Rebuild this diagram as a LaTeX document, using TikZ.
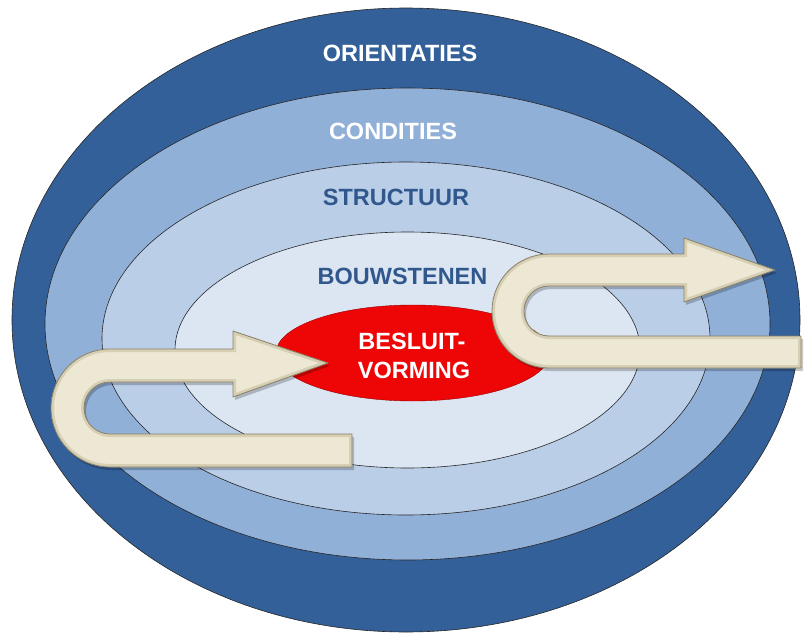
\documentclass[tikz,border=0pt]{standalone}
\usepackage{fontspec}
\setmainfont{Liberation Sans}
\usetikzlibrary{shapes.geometric}
\definecolor{bandA}{RGB}{51,96,152}
\definecolor{bandB}{RGB}{145,176,216}
\definecolor{bandC}{RGB}{187,206,232}
\definecolor{bandD}{RGB}{220,230,243}
\definecolor{coreRed}{RGB}{238,6,6}
\definecolor{lblBlue}{RGB}{48,88,140}
\definecolor{creamFill}{RGB}{237,232,212}
\definecolor{creamBevel}{RGB}{214,207,180}
\definecolor{creamEdge}{RGB}{135,127,104}
\newcommand\arrowLpath{(352,434) -- (110,434) arc[start angle=90,end angle=270,radius=26]
  -- (233,382) -- (233,397) -- (328,363) -- (233,331) -- (233,349) -- (110,349)
  arc[start angle=270,end angle=90,radius=59] -- (352,467) -- cycle}
\newcommand\arrowRpath{(801,336) -- (549,336) arc[start angle=90,end angle=270,radius=25]
  -- (684,286) -- (684,302) -- (775,270) -- (684,238) -- (684,254) -- (549,254)
  arc[start angle=270,end angle=90,radius=57] -- (801,368) -- cycle}
\begin{document}
\begin{tikzpicture}[x=1pt,y=-1pt,
  ring/.style={ellipse, draw=black!85, line width=0.6pt, inner sep=0pt},
  lbl/.style={font=\bfseries\fontsize{23.5}{28}\selectfont, inner sep=0pt},
  shadowfill/.style={fill=black, opacity=0.22},
  arrowbody/.style={fill=creamFill},
  arrowbevel/.style={draw=creamBevel, line width=6pt},
  arrowedge/.style={draw=creamEdge, line width=0.8pt, line join=round}]
\useasboundingbox (0,0) rectangle (804,637);
% concentric ellipses
\node[ring, fill=bandA, minimum width=788pt, minimum height=624pt] (orient) at (406,320) {};
\node[ring, fill=bandB, minimum width=725pt, minimum height=472pt] (cond) at (407.5,324) {};
\node[ring, fill=bandC, minimum width=608pt, minimum height=353pt] (struct) at (406,338.5) {};
\node[ring, fill=bandD, minimum width=465pt, minimum height=236pt] (bouw) at (407.5,350) {};
\node[ellipse, fill=coreRed, draw=red!60!black, line width=0.4pt, inner sep=0pt,
      minimum width=274pt, minimum height=96pt] (core) at (413,353) {};
% labels
\node[lbl, text=white] (tOrient) at (400,53.5) {ORIENTATIES};
\node[lbl, text=white] (tCond) at (393,131.5) {CONDITIES};
\node[lbl, text=lblBlue] (tStruct) at (396,197.5) {STRUCTUUR};
\node[lbl, text=lblBlue] (tBouw) at (402.5,276) {BOUWSTENEN};
\node[lbl, text=white] (tBes) at (412,341.5) {BESLUIT-};
\node[lbl, text=white] (tVorm) at (414,370) {VORMING};
% left U-arrow
\fill[shadowfill, shift={(2,3)}] \arrowLpath;
\fill[arrowbody] \arrowLpath;
\begin{scope}
  \clip \arrowLpath;
  \draw[arrowbevel] \arrowLpath;
\end{scope}
\draw[arrowedge] \arrowLpath;
% right U-arrow
\fill[shadowfill, shift={(2,3)}] \arrowRpath;
\fill[arrowbody] \arrowRpath;
\begin{scope}
  \clip \arrowRpath;
  \draw[arrowbevel] \arrowRpath;
\end{scope}
\draw[arrowedge] \arrowRpath;
\end{tikzpicture}
\end{document}
